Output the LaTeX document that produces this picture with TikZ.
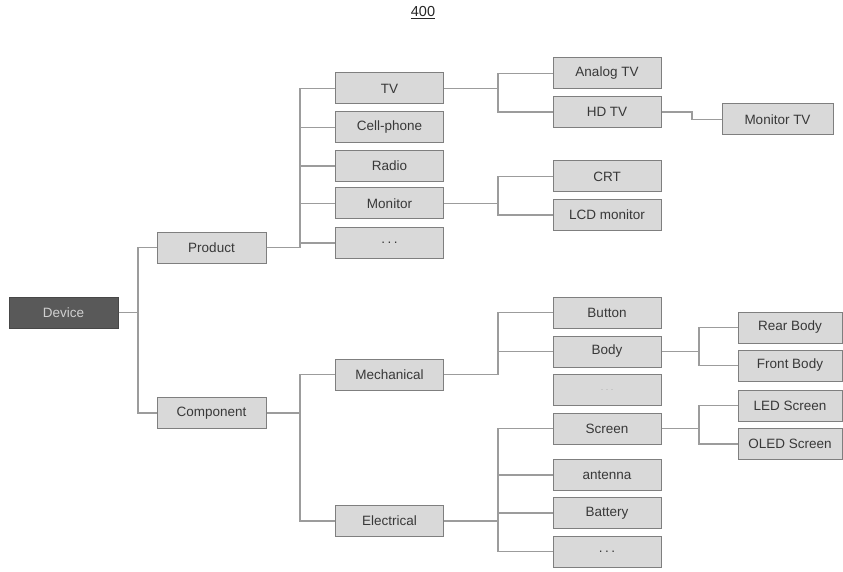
\documentclass[tikz,border=0pt]{standalone}
\usepackage{fontspec}
\setmainfont{Liberation Sans}
\definecolor{boxfill}{HTML}{D9D9D9}
\definecolor{boxline}{HTML}{7F7F7F}
\definecolor{linkgray}{HTML}{9C9C9C}
\definecolor{txt}{HTML}{383838}
\definecolor{rootfill}{HTML}{595959}
\definecolor{roottext}{HTML}{D0D0D0}
\tikzset{
  box/.style={draw=boxline, fill=boxfill, line width=1pt, minimum width=108pt,
    minimum height=31pt, inner sep=0pt, text=txt,
    font=\fontsize{13.5pt}{15pt}\selectfont},
  widebox/.style={box, minimum width=111pt},
  leafbox/.style={box, minimum width=104pt},
  rootbox/.style={box, fill=rootfill, draw=rootfill!80!black, text=roottext},
  link/.style={draw=linkgray, line width=1.2pt},
}
\newcommand{\spdots}{.\hspace{2.5pt}.\hspace{2.5pt}.}
\begin{document}
\begin{tikzpicture}[x=1pt, y=-1pt]
  \useasboundingbox (0,0) rectangle (843,572);

  % figure number
  \node[font=\fontsize{14.5pt}{16pt}\selectfont, text=black!85] (fig) at (423,13) {\underline{400}};

  % trunk positions of each level
  \coordinate (t1) at (138,0);
  \coordinate (t2) at (300,0);
  \coordinate (t3) at (498,0);
  \coordinate (t4) at (692,0);
  \coordinate (t5) at (699,0);

  % level 0 and 1
  \node[rootbox, minimum width=109pt] (device) at (63.5,312.5) {Device};
  \node[box, minimum width=109pt] (product) at (211.5,247.5) {Product};
  \node[box, minimum width=109pt] (component) at (211.5,413) {Component};

  % level 2
  \node[box] (tv) at (389.5,88.5) {TV};
  \node[box] (cell) at (389.5,127.5) {Cell-phone};
  \node[box] (radio) at (389.5,166) {Radio};
  \node[box] (monitor) at (389.5,203.5) {Monitor};
  \node[box] (pdots) at (389.5,243) {\spdots};
  \node[box] (mech) at (389.5,374.5) {Mechanical};
  \node[box] (elec) at (389.5,521) {Electrical};

  % level 3
  \node[box] (analog) at (607,73.5) {Analog TV};
  \node[box] (hdtv) at (607,112) {HD TV};
  \node[box] (crt) at (607,176.5) {CRT};
  \node[box] (lcd) at (607,215) {LCD monitor};
  \node[box] (button) at (607,312.5) {Button};
  \node[box] (body) at (607,351.5) {Body};
  \node[box, text=txt!40, font=\fontsize{9pt}{10pt}\selectfont] (mdots) at (607,390) {\spdots};
  \node[box] (screen) at (607,428.5) {Screen};
  \node[box] (antenna) at (607,475) {antenna};
  \node[box] (battery) at (607,513) {Battery};
  \node[box] (edots) at (607,551.5) {\spdots};

  % level 4
  \node[widebox] (montv) at (777.5,119.5) {Monitor TV};
  \node[leafbox] (rear) at (790,327.5) {Rear Body};
  \node[leafbox] (front) at (790,365.5) {Front Body};
  \node[leafbox] (led) at (790,405.5) {LED Screen};
  \node[leafbox] (oled) at (790,444) {OLED Screen};

  % connectors
  \foreach \c in {product, component}
    \draw[link] (device.east) -- (device.east -| t1) |- (\c.west);
  \foreach \c in {tv, cell, radio, monitor, pdots}
    \draw[link] (product.east) -- (product.east -| t2) |- (\c.west);
  \foreach \c in {mech, elec}
    \draw[link] (component.east) -- (component.east -| t2) |- (\c.west);
  \foreach \c in {analog, hdtv}
    \draw[link] (tv.east) -- (tv.east -| t3) |- (\c.west);
  \foreach \c in {crt, lcd}
    \draw[link] (monitor.east) -- (monitor.east -| t3) |- (\c.west);
  \foreach \c in {button, body}
    \draw[link] (mech.east) -- (mech.east -| t3) |- (\c.west);
  \foreach \c in {screen, antenna, battery, edots}
    \draw[link] (elec.east) -- (elec.east -| t3) |- (\c.west);
  \draw[link] (hdtv.east) -- (hdtv.east -| t4) |- (montv.west);
  \foreach \c in {rear, front}
    \draw[link] (body.east) -- (body.east -| t5) |- (\c.west);
  \foreach \c in {led, oled}
    \draw[link] (screen.east) -- (screen.east -| t5) |- (\c.west);
\end{tikzpicture}
\end{document}
